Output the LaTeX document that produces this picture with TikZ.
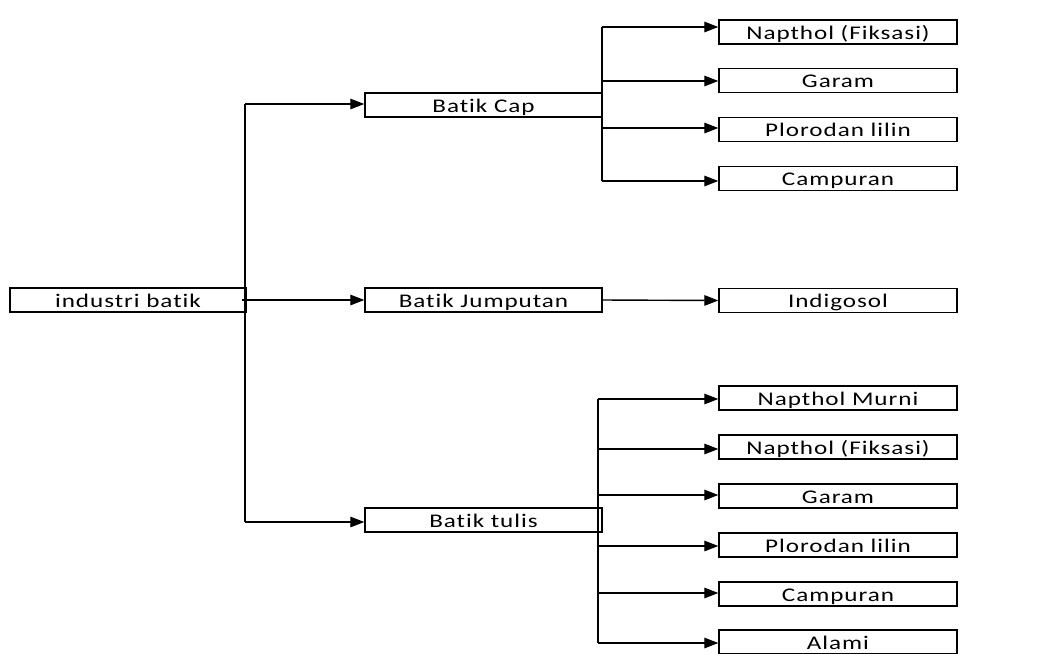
\documentclass[tikz,border=0pt]{standalone}
\usepackage{fontspec}
\setmainfont{Carlito}[FakeStretch=1.3,LetterSpace=5,Ligatures={NoCommon}]
\usetikzlibrary{arrows.meta}
\begin{document}
\begin{tikzpicture}[x=0.02cm,y=-0.02cm,>={Triangle[length=8pt,width=6pt]},line width=0.8pt,
    kotak/.style={draw,rectangle,inner sep=0pt,minimum height=0.48cm,text height=9pt,text depth=0.5pt,
        font=\fontsize{11}{13}\selectfont},
    kiri/.style={kotak,minimum width=4.72cm},
    tengah/.style={kotak,minimum width=4.74cm},
    kanan/.style={kotak,minimum width=4.76cm}]
    \useasboundingbox (0,0) rectangle (1055,653);
    % induk dan cabang utama
    \node[kiri] (ind) at (128,300) {industri batik};
    \node[tengah] (cap) at (483.5,105) {Batik Cap};
    \node[tengah] (jum) at (483.5,300) {Batik Jumputan};
    \node[tengah] (tul) at (483.5,520) {Batik tulis};
    \coordinate (t1) at (245,104);
    \coordinate (t3) at (245,522);
    \draw (t1) -- (t3);
    \draw[->] (t1) -- (cap.west |- t1);
    \draw[->] (242,300) -- (jum.west);
    \draw[->] (t3) -- (t3 -| tul.west);
    % batik cap
    \coordinate (c0) at (602,27);
    \coordinate (c1) at (602,181);
    \draw (c0) -- (c1);
    \foreach \n/\txt/\yb/\ya in {cap1/Napthol (Fiksasi)/32/27, cap2/Garam/80.5/81,
        cap3/Plorodan lilin/129.5/128, cap4/Campuran/178.5/181}{
        \node[kanan] (\n) at (838,\yb) {\txt};
        \draw[->] (602,\ya) -- (\n.west |- 0,\ya);
    }
    % batik jumputan
    \node[kanan] (jum1) at (838,300.5) {Indigosol};
    \draw[->] (jum.east) -- (jum1.west);
    % batik tulis
    \coordinate (d0) at (598,399);
    \coordinate (d1) at (598,643);
    \draw (d0) -- (d1);
    \foreach \n/\txt/\yb/\ya in {tul1/Napthol Murni/398/399, tul2/Napthol (Fiksasi)/447/449,
        tul3/Garam/496/495, tul4/Plorodan lilin/545/546, tul5/Campuran/594/593, tul6/Alami/642/643}{
        \node[kanan] (\n) at (838,\yb) {\txt};
        \draw[->] (598,\ya) -- (\n.west |- 0,\ya);
    }
\end{tikzpicture}
\end{document}
